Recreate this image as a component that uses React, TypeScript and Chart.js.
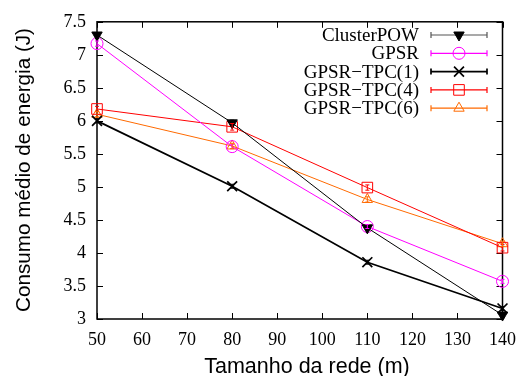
import React, { useEffect, useRef } from "react";
import { Chart, registerables } from "chart.js";
import { drawPoint } from "chart.js/helpers";

Chart.register(...registerables);

const networkSizes = [50, 80, 110, 140];
const xTicks = [50, 60, 70, 80, 90, 100, 110, 120, 130, 140];
const yTicks = [3, 3.5, 4, 4.5, 5, 5.5, 6, 6.5, 7, 7.5];

const clusterPOW = [7.3, 5.97, 4.38, 3.06];
const gpsr = [7.17, 5.61, 4.4, 3.57];
const gpsrTpc1 = [6.0, 5.01, 3.86, 3.16];
const gpsrTpc4 = [6.18, 5.91, 4.99, 4.08];
const gpsrTpc6 = [6.1, 5.62, 4.81, 4.14];

const errClusterPOW = [0.03, 0.04, 0.03, 0.04];
const errGpsr = [0.04, 0.03, 0.03, 0.03];
const errTpc1 = [0.03, 0.03, 0.03, 0.03];
const errTpc4 = [0.04, 0.05, 0.04, 0.05];
const errTpc6 = [0.04, 0.04, 0.04, 0.04];

const seriesNames = ["ClusterPOW", "GPSR", "GPSR\u2212TPC(1)", "GPSR\u2212TPC(4)", "GPSR\u2212TPC(6)"];
const xTitle = "Tamanho da rede (m)";
const yTitle = "Consumo médio de energia (J)";

const SERIF = "'Liberation Serif', 'DejaVu Serif', serif";
const SANS = "'Liberation Sans', Arial, sans-serif";

const styles = [
  { color: "#000000", pointStyle: "triangle", rotation: 180, fill: true, lw: 1, radius: 6 },
  { color: "#ff00ff", pointStyle: "circle", rotation: 0, fill: false, lw: 1, radius: 6 },
  { color: "#000000", pointStyle: "crossRot", rotation: 0, fill: false, lw: 1.7, radius: 7 },
  { color: "#ff0000", pointStyle: "rect", rotation: 0, fill: false, lw: 1, radius: 7.5 },
  { color: "#ff6a00", pointStyle: "triangle", rotation: 0, fill: false, lw: 1, radius: 6 },
];

const values = [clusterPOW, gpsr, gpsrTpc1, gpsrTpc4, gpsrTpc6];
const errors = [errClusterPOW, errGpsr, errTpc1, errTpc4, errTpc6];

const framePlugin = {
  id: "frame",
  beforeDatasetsDraw(chart: any) {
    const { ctx, chartArea: a, scales } = chart;
    ctx.save();
    ctx.strokeStyle = "#000";
    ctx.lineWidth = 1.5;
    ctx.strokeRect(a.left, a.top, a.right - a.left, a.bottom - a.top);
    ctx.lineWidth = 1;
    const tl = 6;
    ctx.beginPath();
    for (const t of xTicks) {
      const x = Math.round(scales.x.getPixelForValue(t)) + 0.5;
      ctx.moveTo(x, a.bottom);
      ctx.lineTo(x, a.bottom - tl);
      ctx.moveTo(x, a.top);
      ctx.lineTo(x, a.top + tl);
    }
    for (const t of yTicks) {
      const y = Math.round(scales.y.getPixelForValue(t)) + 0.5;
      ctx.moveTo(a.left, y);
      ctx.lineTo(a.left + tl, y);
      ctx.moveTo(a.right, y);
      ctx.lineTo(a.right - tl, y);
    }
    ctx.stroke();
    ctx.restore();
  },
  afterDraw(chart: any) {
    const { ctx } = chart;
    ctx.save();
    ctx.fillStyle = "#000";
    ctx.font = `21.5px ${SANS}`;
    ctx.textAlign = "center";
    ctx.textBaseline = "alphabetic";
    ctx.fillText(xTitle, 307, 373);
    ctx.translate(30, 170);
    ctx.rotate(-Math.PI / 2);
    ctx.font = `20.7px ${SANS}`;
    ctx.fillText(yTitle, 0, 0);
    ctx.restore();
  },
};

const errorBarPlugin = {
  id: "errorBars",
  afterDatasetsDraw(chart: any) {
    const { ctx, scales } = chart;
    ctx.save();
    values.forEach((vals, i) => {
      ctx.strokeStyle = styles[i].color;
      ctx.lineWidth = 1;
      vals.forEach((v, j) => {
        const x = scales.x.getPixelForValue(networkSizes[j]);
        const y1 = scales.y.getPixelForValue(v - errors[i][j]);
        const y2 = scales.y.getPixelForValue(v + errors[i][j]);
        ctx.beginPath();
        ctx.moveTo(x, y1);
        ctx.lineTo(x, y2);
        ctx.moveTo(x - 2, y1);
        ctx.lineTo(x + 2, y1);
        ctx.moveTo(x - 2, y2);
        ctx.lineTo(x + 2, y2);
        ctx.stroke();
      });
    });
    ctx.restore();
  },
};

const legendPlugin = {
  id: "customLegend",
  afterDraw(chart: any) {
    const { ctx } = chart;
    ctx.save();
    ctx.font = `19px ${SERIF}`;
    ctx.textAlign = "right";
    ctx.textBaseline = "middle";
    const textRight = 419;
    const x1 = 431;
    const x2 = 487;
    const y0 = 35;
    const dy = 18.3;
    seriesNames.forEach((name, i) => {
      const y = y0 + i * dy;
      const s = styles[i];
      ctx.fillStyle = "#000";
      ctx.fillText(name, textRight, y + 1);
      ctx.strokeStyle = i === 0 ? "#555" : s.color;
      ctx.lineWidth = i === 2 ? 1.7 : 1.2;
      ctx.beginPath();
      ctx.moveTo(x1, y);
      ctx.lineTo(x2, y);
      ctx.moveTo(x1, y - 3);
      ctx.lineTo(x1, y + 3);
      ctx.moveTo(x2, y - 3);
      ctx.lineTo(x2, y + 3);
      ctx.stroke();
      ctx.strokeStyle = s.color;
      ctx.fillStyle = s.fill ? s.color : "rgba(0,0,0,0)";
      ctx.lineWidth = s.lw;
      drawPoint(ctx, { pointStyle: s.pointStyle, rotation: s.rotation, radius: s.radius, borderWidth: s.lw } as any, 459, y);
    });
    ctx.restore();
  },
};

export default function App() {
  const canvasRef = useRef<HTMLCanvasElement>(null);

  useEffect(() => {
    const canvas = canvasRef.current;
    if (!canvas) return;
    const chart = new Chart(canvas, {
      type: "line",
      data: {
        datasets: values.map((vals, i) => ({
          label: seriesNames[i],
          data: vals.map((v, j) => ({ x: networkSizes[j], y: v })),
          borderColor: styles[i].color,
          backgroundColor: styles[i].fill ? styles[i].color : "rgba(0,0,0,0)",
          borderWidth: styles[i].lw,
          pointStyle: styles[i].pointStyle as any,
          rotation: styles[i].rotation,
          pointRadius: styles[i].radius,
          pointBorderWidth: styles[i].lw,
          pointBorderColor: styles[i].color,
          pointBackgroundColor: styles[i].fill ? styles[i].color : "rgba(0,0,0,0)",
          tension: 0,
          fill: false,
          clip: false as any,
        })),
      },
      options: {
        animation: false,
        responsive: false,
        maintainAspectRatio: false,
        layout: { padding: { top: 21, right: 18, left: 0, bottom: 0 } },
        plugins: {
          legend: { display: false },
          tooltip: { enabled: false },
        },
        scales: {
          x: {
            type: "linear",
            min: 50,
            max: 140,
            afterBuildTicks: (scale: any) => {
              scale.ticks = xTicks.map((v) => ({ value: v }));
            },
            afterFit: (scale: any) => {
              scale.height = 57;
            },
            grid: { display: false, drawTicks: false },
            border: { display: false },
            ticks: {
              color: "#000",
              font: { family: SERIF, size: 18 },
              padding: 10,
              maxRotation: 0,
              autoSkip: false,
            },
          },
          y: {
            type: "linear",
            min: 3,
            max: 7.5,
            afterBuildTicks: (scale: any) => {
              scale.ticks = yTicks.map((v) => ({ value: v }));
            },
            afterFit: (scale: any) => {
              scale.width = 97;
            },
            grid: { display: false, drawTicks: false },
            border: { display: false },
            ticks: {
              color: "#000",
              font: { family: SERIF, size: 18 },
              padding: 11,
              autoSkip: false,
              callback: (v: any) => String(v),
            },
          },
        },
      },
      plugins: [framePlugin, errorBarPlugin, legendPlugin],
    });
    return () => chart.destroy();
  }, []);

  return (
    <div style={{ position: "fixed", left: 0, top: 0, width: 526, height: 376, background: "#fff" }}>
      <canvas ref={canvasRef} width={526} height={376} style={{ width: 526, height: 376 }} />
    </div>
  );
}
